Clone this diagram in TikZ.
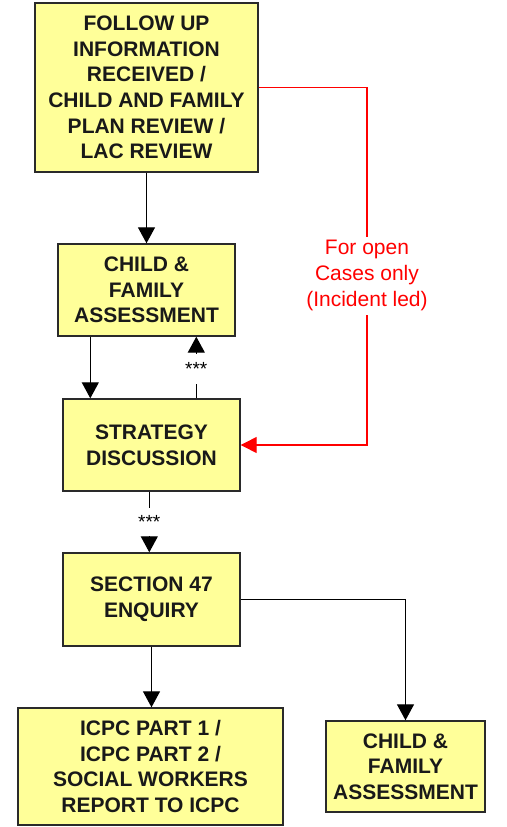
\documentclass[tikz,border=0pt]{standalone}
\usepackage{fontspec}
\setmainfont{Liberation Sans}
\usetikzlibrary{arrows.meta,calc}
\definecolor{boxfill}{HTML}{FFFF99}
\definecolor{boxline}{HTML}{2A2A2A}
\definecolor{linkred}{HTML}{FF0000}
\begin{document}
\begin{tikzpicture}[x=1pt,y=1pt,
  stepbox/.style={draw=boxline, line width=1.4pt, fill=boxfill, align=center, inner sep=0pt,
    font=\fontsize{21}{25.7}\selectfont\bfseries, text=black!90},
  arr/.style={line width=1.3pt, -{Triangle[width=17pt,length=16pt]}},
  redarr/.style={line width=1.3pt, color=linkred, -{Triangle[width=16pt,length=16pt]}},
  stars/.style={fill=white, inner sep=0pt, font=\fontsize{19}{19}\selectfont},
  redlabel/.style={fill=white, inner sep=0pt, align=center, text=linkred, minimum height=78pt,
    font=\fontsize{21}{26}\selectfont}]
\useasboundingbox (0,0) rectangle (506,-827);

\node[stepbox, minimum width=223pt, minimum height=169pt] (b1) at (146.5,-87.5)
  {FOLLOW UP\\INFORMATION\\RECEIVED /\\CHILD AND FAMILY\\PLAN REVIEW /\\LAC REVIEW};
\node[stepbox, minimum width=177pt, minimum height=92pt] (b2) at (146.5,-290)
  {CHILD \&\\FAMILY\\ASSESSMENT};
\node[stepbox, minimum width=177pt, minimum height=92pt] (b3) at (151.5,-445)
  {STRATEGY\\DISCUSSION};
\node[stepbox, minimum width=177pt, minimum height=93pt] (b4) at (151.5,-599.5)
  {SECTION 47\\ENQUIRY};
\node[stepbox, minimum width=265pt, minimum height=117pt] (b5) at (150.5,-766.5)
  {ICPC PART 1 /\\ICPC PART 2 /\\SOCIAL WORKERS\\REPORT TO ICPC};
\node[stepbox, minimum width=159pt, minimum height=91pt] (b6) at (405.5,-766.5)
  {CHILD \&\\FAMILY\\ASSESSMENT};

\coordinate (c2a) at ($(b2.south west)+(33,0)$);
\coordinate (c3a) at ($(b3.north west)+(134,0)$);
\coordinate (c3b) at ($(b3.south west)+(87,0)$);
\coordinate (rc) at (367,0);

\draw[arr] (b1.south) -- (b2.north);
\draw[arr] (c2a) -- (c2a |- b3.north);
\draw[arr] (c3a) -- node[stars, pos=0.47, minimum height=30pt]{***} (c3a |- b2.south);
\draw[arr] (c3b) -- node[stars, pos=0.5, minimum height=28pt]{***} (c3b |- b4.north);
\draw[arr] (b4.south) -- (b4.south |- b5.north);
\draw[arr] (b4.east) -| (b6.north);

\draw[redarr] (b1.east) -- (rc |- b1.east)
  -- node[redlabel, pos=0.527]{For open\\Cases only\\(Incident led)} (rc |- b3.east)
  -- (b3.east);
\end{tikzpicture}
\end{document}
